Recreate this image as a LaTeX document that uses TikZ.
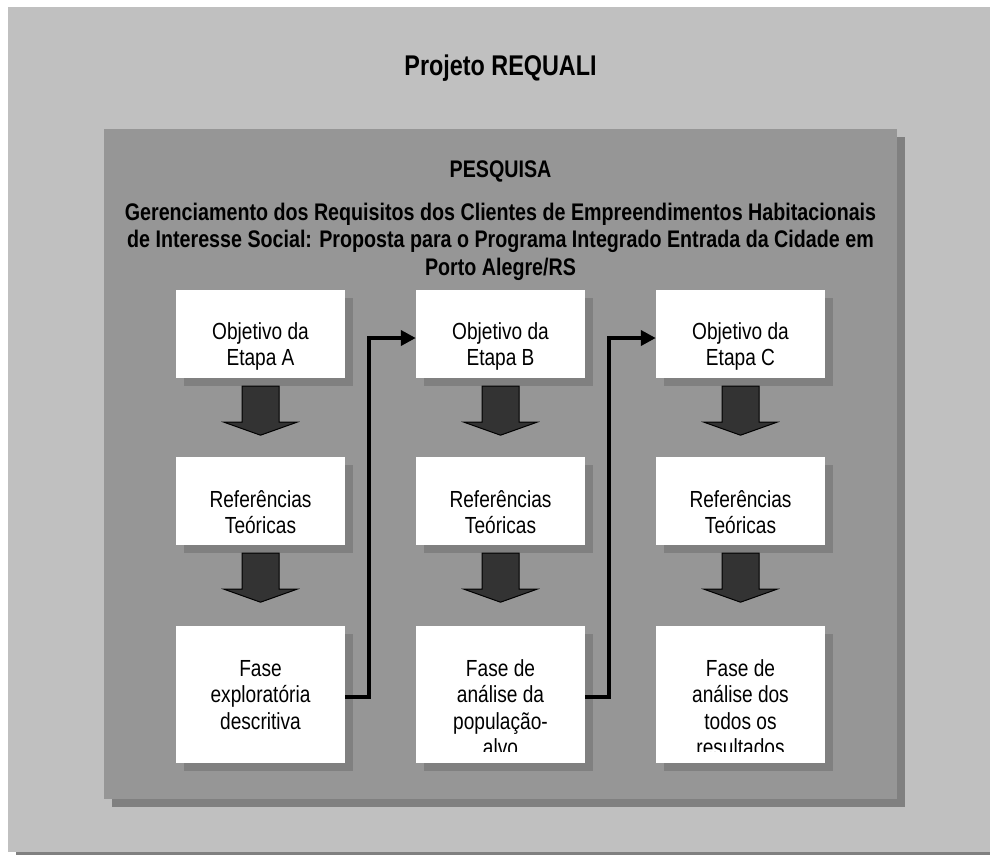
\documentclass[tikz,border=0pt]{standalone}
\usepackage{fontspec}
\setmainfont[FakeStretch=0.82]{Liberation Sans}
\usetikzlibrary{shadows,arrows.meta}

\definecolor{paper}{HTML}{C0C0C0}
\definecolor{panel}{HTML}{969696}
\definecolor{shadowgray}{HTML}{808080}
\definecolor{darrow}{HTML}{333333}

\begin{document}
\begin{tikzpicture}[x=1pt,y=-1pt,
    etapa/.style ={fill=white, inner sep=0pt, minimum width=169pt, minimum height=88pt,
       drop shadow={shadow xshift=8pt, shadow yshift=-8pt, fill=shadowgray, opacity=1}},
    fase/.style ={etapa, minimum height=137pt},
    etapatext/.style ={anchor=north, inner sep=0pt, align=center,
       font=\fontsize{23.3}{26.6}\selectfont},
    seta/.style ={draw=black, line width=1pt, fill=darrow},
    ligacao/.style ={line width=4.5pt, -{Triangle[length=15pt,width=15pt]}}]
   \useasboundingbox (0,0) rectangle (990,854);
   \clip (0,0) rectangle (990,854);
   \fill[shadowgray] (16,15) rectangle (1008,860);
   \fill[paper] (8,7) rectangle (1000,852);
   \fill[shadowgray] (112,137) rectangle (905,807);
   \fill[panel] (104,129) rectangle (897,799);

   \node[anchor=base, font=\bfseries\fontsize{28.5}{32}\selectfont] (projeto) at (500.5,75) {Projeto REQUALI};
   \node[anchor=base, font=\bfseries\fontsize{24}{27.6}\selectfont] (pesquisa) at (500.5,177) {PESQUISA};
   \node[anchor=north, inner sep=0pt, align=center, font=\bfseries\fontsize{24}{27.6}\selectfont] (titulo) at (500.5,200.7)
      {\strut Gerenciamento dos Requisitos dos Clientes de Empreendimentos Habitacionais\\
       de Interesse Social: Proposta para o Programa Integrado Entrada da Cidade em\\
       Porto Alegre/RS};

   \node[etapa] (a1) at (260.5,334) {};
   \node[etapa] (b1) at (500.5,334) {};
   \node[etapa] (c1) at (740.5,334) {};
   \node[etapa] (a2) at (260.5,501) {};
   \node[etapa] (b2) at (500.5,501) {};
   \node[etapa] (c2) at (740.5,501) {};
   \node[fase] (a3) at (260.5,694.5) {};
   \node[fase] (b3) at (500.5,694.5) {};
   \node[fase] (c3) at (740.5,694.5) {};

   \node[etapatext] (a1t) at ([yshift=-30.4pt]a1.north) {\strut Objetivo da\\Etapa A};
   \node[etapatext] (b1t) at ([yshift=-30.4pt]b1.north) {\strut Objetivo da\\Etapa B};
   \node[etapatext] (c1t) at ([yshift=-30.4pt]c1.north) {\strut Objetivo da\\Etapa C};
   \node[etapatext] (a2t) at ([yshift=-31.5pt]a2.north) {\strut Referências\\Teóricas};
   \node[etapatext] (b2t) at ([yshift=-31.5pt]b2.north) {\strut Referências\\Teóricas};
   \node[etapatext] (c2t) at ([yshift=-31.5pt]c2.north) {\strut Referências\\Teóricas};
   \begin{scope}
      \clip (a3.north west) rectangle ([yshift=11.5pt]c3.south east);
      \node[etapatext] (a3t) at ([yshift=-31.5pt]a3.north) {\strut Fase\\exploratória\\descritiva};
      \node[etapatext] (b3t) at ([yshift=-31.5pt]b3.north) {\strut Fase de\\análise da\\população-\\alvo};
      \node[etapatext] (c3t) at ([yshift=-31.5pt]c3.north) {\strut Fase de\\análise dos\\todos os\\resultados};
   \end{scope}

   % setas entre os passos
   \foreach \n in {a1,b1,c1,a2,b2,c2}
      \draw[seta] ([yshift=-8pt]\n.south) -- ++(-18.5,0) -- ++(0,36) -- ++(-18,0) -- ++(36.5,13)
         -- ++(36.5,-13) -- ++(-18,0) -- ++(0,-36) -- cycle;

   \draw[ligacao] ([yshift=-2.5pt]a3.east) -- ++(24,0) |- ([yshift=-4pt]b1.west);
   \draw[ligacao] ([yshift=-2.5pt]b3.east) -- ++(24,0) |- ([yshift=-4pt]c1.west);
 \end{tikzpicture}
\end{document}
